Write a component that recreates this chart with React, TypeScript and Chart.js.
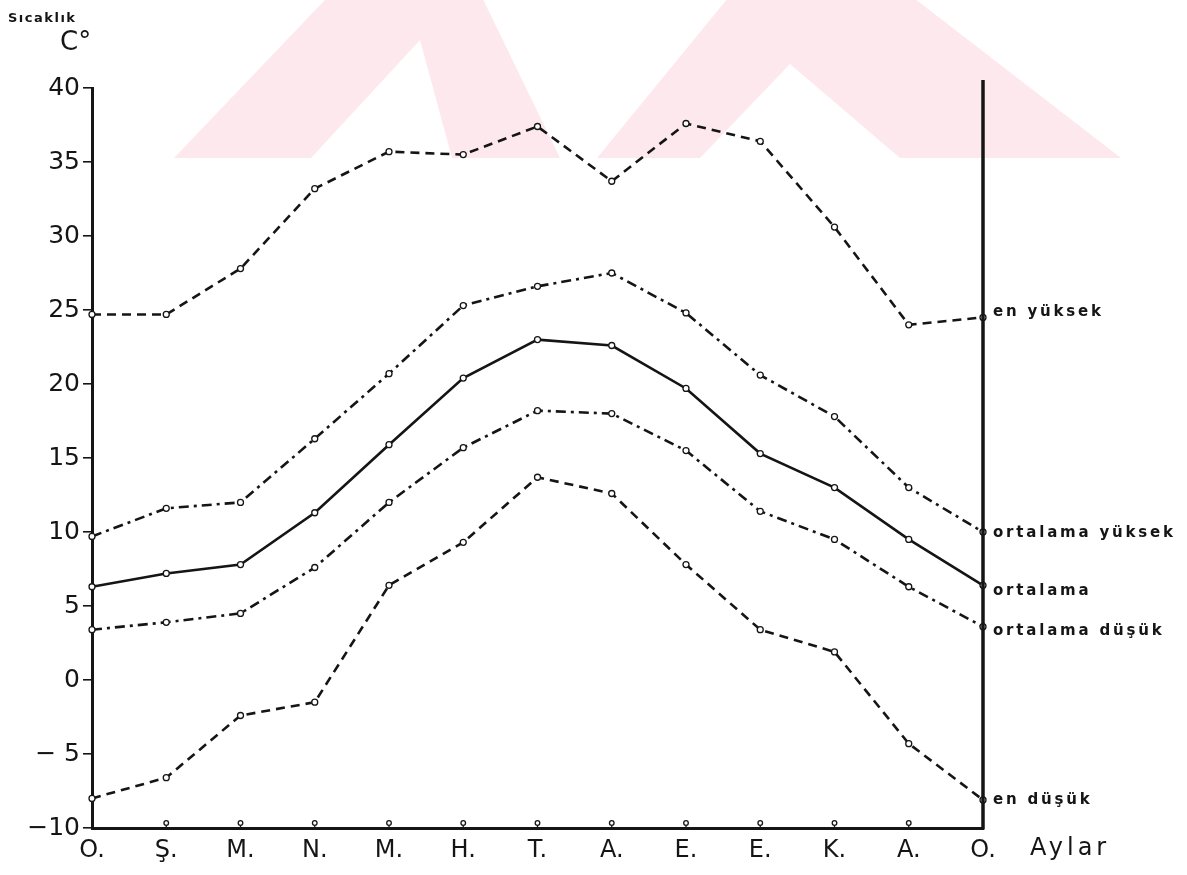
import React, { useEffect, useRef } from "react";
import { Chart, registerables } from "chart.js";
Chart.register(...registerables);

const months = ["O.", "Ş.", "M.", "N.", "M.", "H.", "T.", "A.", "E.", "E.", "K.", "A.", "O."];
const yTickValues = [-10, -5, 0, 5, 10, 15, 20, 25, 30, 35, 40];
const yTickLabels = ["−10", "− 5", "0", "5", "10", "15", "20", "25", "30", "35", "40"];

const enYuksek = [24.7, 24.7, 27.8, 33.2, 35.7, 35.5, 37.4, 33.7, 37.6, 36.4, 30.6, 24.0, 24.5];
const ortYuksek = [9.7, 11.6, 12.0, 16.3, 20.7, 25.3, 26.6, 27.5, 24.8, 20.6, 17.8, 13.0, 10.0];
const ortalama = [6.3, 7.2, 7.8, 11.3, 15.9, 20.4, 23.0, 22.6, 19.7, 15.3, 13.0, 9.5, 6.4];
const ortDusuk = [3.4, 3.9, 4.5, 7.6, 12.0, 15.7, 18.2, 18.0, 15.5, 11.4, 9.5, 6.3, 3.6];
const enDusuk = [-8.0, -6.6, -2.4, -1.5, 6.4, 9.3, 13.7, 12.6, 7.8, 3.4, 1.9, -4.3, -8.1];

const seriesNames = ["en yüksek", "ortalama yüksek", "ortalama", "ortalama düşük", "en düşük"];
const yTitle = "Sıcaklık";
const yUnit = "C°";
const xTitle = "Aylar";

const INK = "#151515";
const WATERMARK = "#fde9ed";

function poly(ctx: CanvasRenderingContext2D, pts: number[][], color: string) {
  ctx.beginPath();
  ctx.moveTo(pts[0][0], pts[0][1]);
  for (let i = 1; i < pts.length; i++) ctx.lineTo(pts[i][0], pts[i][1]);
  ctx.closePath();
  ctx.fillStyle = color;
  ctx.fill();
}

const decor = {
  id: "decor",
  beforeDraw(chart: any) {
    const { ctx, width, height } = chart;
    ctx.save();
    ctx.fillStyle = "#ffffff";
    ctx.fillRect(0, 0, width, height);
    // faint watermark (cut off at its lower edge)
    ctx.beginPath();
    ctx.rect(0, 0, width, 158);
    ctx.clip();
    poly(ctx, [[174, 158], [430, -110], [560, 158]], WATERMARK);
    poly(ctx, [[311, 158], [420, 40], [452, 158]], "#ffffff");
    poly(ctx, [[597, 158], [800, -90], [1121, 158]], WATERMARK);
    poly(ctx, [[700, 158], [790, 64], [900, 158]], "#ffffff");
    ctx.restore();
  },
  afterDraw(chart: any) {
    const { ctx, chartArea } = chart;
    const x = chart.scales.x;
    const y = chart.scales.y;
    ctx.save();
    // right axis
    ctx.strokeStyle = INK;
    ctx.lineWidth = 3.5;
    ctx.beginPath();
    ctx.moveTo(chartArea.right, chartArea.top - 8);
    ctx.lineTo(chartArea.right, chartArea.bottom + 1.5);
    ctx.stroke();
    // small circles on the month axis
    ctx.lineWidth = 1.3;
    for (let i = 1; i < months.length - 1; i++) {
      const px = x.getPixelForTick(i);
      ctx.beginPath();
      ctx.fillStyle = "#fff";
      ctx.arc(px, chartArea.bottom - 5, 2.3, 0, Math.PI * 2);
      ctx.fill();
      ctx.stroke();
      ctx.beginPath();
      ctx.moveTo(px, chartArea.bottom - 2.5);
      ctx.lineTo(px, chartArea.bottom);
      ctx.stroke();
    }
    // series labels on the right
    const offsets = [-5, 1, 6, 4, 0];
    ctx.fillStyle = INK;
    ctx.font = "bold 15px 'DejaVu Sans'";
    (ctx as any).letterSpacing = "2.8px";
    ctx.textAlign = "left";
    ctx.textBaseline = "middle";
    chart.data.datasets.forEach((ds: any, i: number) => {
      const last = ds.data[ds.data.length - 1];
      ctx.fillText(seriesNames[i], chartArea.right + 10, y.getPixelForValue(last) + offsets[i]);
    });
    // y title
    ctx.font = "bold 13px 'DejaVu Sans'";
    (ctx as any).letterSpacing = "1.5px";
    ctx.textBaseline = "alphabetic";
    ctx.fillText(yTitle, 8, 22);
    (ctx as any).letterSpacing = "0px";
    ctx.font = "26px 'DejaVu Sans'";
    ctx.fillText(yUnit, 60, 50);
    // x title
    ctx.font = "24px 'DejaVu Sans'";
    (ctx as any).letterSpacing = "4px";
    ctx.textBaseline = "middle";
    ctx.fillText(xTitle, chartArea.right + 47, chartArea.bottom + 21);
    ctx.restore();
  },
};

export default function App() {
  const ref = useRef<HTMLCanvasElement | null>(null);
  useEffect(() => {
    if (!ref.current) return;
    const mk = (label: string, data: number[], dash: number[]) => ({
      label,
      data,
      borderColor: INK,
      borderWidth: 2.6,
      borderDash: dash,
      pointRadius: 3,
      pointBorderWidth: 1.3,
      pointBackgroundColor: "#fff",
      pointBorderColor: INK,
      tension: 0,
      fill: false,
    });
    const chart = new Chart(ref.current, {
      type: "line",
      data: {
        labels: months,
        datasets: [
          mk(seriesNames[0], enYuksek, [9, 6]),
          mk(seriesNames[1], ortYuksek, [10, 5, 3, 5]),
          mk(seriesNames[2], ortalama, []),
          mk(seriesNames[3], ortDusuk, [10, 5, 3, 5]),
          mk(seriesNames[4], enDusuk, [9, 6]),
        ],
      },
      options: {
        animation: false,
        responsive: false,
        maintainAspectRatio: false,
        layout: { padding: { top: 88, right: 204, left: 0, bottom: 0 } },
        plugins: { legend: { display: false }, tooltip: { enabled: false } },
        scales: {
          x: {
            type: "category",
            offset: false,
            grid: { display: false, drawTicks: false },
            border: { display: true, width: 3, color: INK },
            ticks: {
              color: INK,
              font: { family: "DejaVu Sans", size: 24 },
              padding: 8,
              autoSkip: false,
              maxRotation: 0,
            },
            afterFit: (s: any) => {
              s.height = 47;
            },
          },
          y: {
            min: -10,
            max: 40,
            afterBuildTicks: (s: any) => {
              s.ticks = yTickValues.map((v) => ({ value: v }));
            },
            grid: {
              display: true,
              drawOnChartArea: false,
              drawTicks: true,
              tickLength: 9,
              color: INK,
              lineWidth: 1.6,
            },
            border: { display: true, width: 3, color: INK },
            ticks: {
              color: INK,
              font: { family: "DejaVu Sans", size: 25 },
              padding: 3,
              callback: (v: any) => {
                const i = yTickValues.indexOf(Number(v));
                return i >= 0 ? yTickLabels[i] : "";
              },
            },
            afterFit: (s: any) => {
              s.width = 92;
            },
          },
        },
      },
      plugins: [decor],
    } as any);
    return () => chart.destroy();
  }, []);
  return (
    <div style={{ position: "fixed", left: 0, top: 0, width: 1187, height: 875, background: "#fff" }}>
      <canvas ref={ref} width={1187} height={875} style={{ width: 1187, height: 875, display: "block" }} />
    </div>
  );
}
